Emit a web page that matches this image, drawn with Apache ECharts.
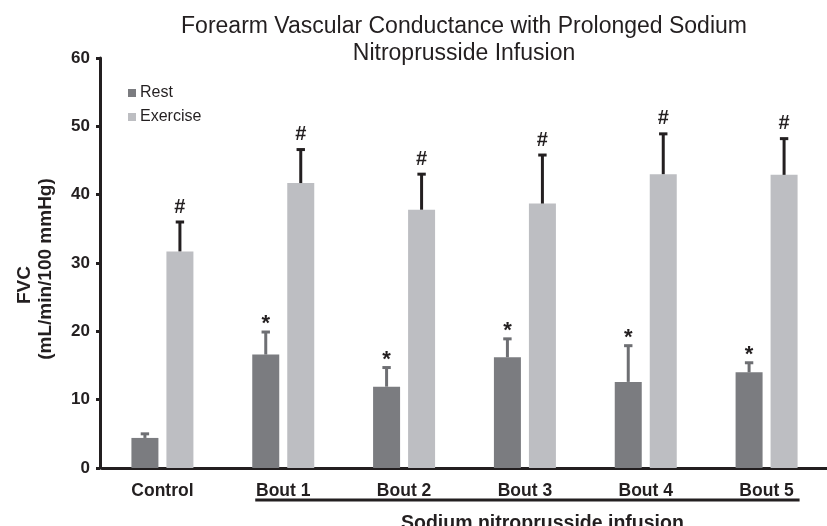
<!DOCTYPE html>
<html>
<head>
<meta charset="utf-8">
<script src="https://cdn.jsdelivr.net/npm/echarts@6/dist/echarts.min.js"></script>
<style>
html,body{margin:0;padding:0;background:#fff;}
#chart{width:827px;height:526px;}
</style>
</head>
<body>
<div id="chart"></div>
<script>
var categories = ['Control', 'Bout 1', 'Bout 2', 'Bout 3', 'Bout 4', 'Bout 5'];
var restMean = [4.4, 16.6, 11.9, 16.2, 12.6, 14.0];
var restSem = [0.6, 3.3, 2.8, 2.7, 5.3, 1.4];
var exerciseMean = [31.7, 41.7, 37.8, 38.7, 43.0, 42.9];
var exerciseSem = [4.3, 4.9, 5.2, 7.1, 5.9, 5.3];
var restMarks = ['', '*', '*', '*', '*', '*'];
var exerciseMarks = ['#', '#', '#', '#', '#', '#'];
var groupLabel = 'Sodium nitroprusside infusion';
var titleText = 'Forearm Vascular Conductance with Prolonged Sodium\nNitroprusside Infusion';

var FONT = '"Liberation Sans", Arial, Helvetica, sans-serif';
var INK = '#231f20';
var REST_COLOR = '#7b7c80';
var REST_ERR = '#6e6f73';
var EX_COLOR = '#bdbec2';
var BAR_W = 27;
var BAR_GAP = 8;
var OFF = (BAR_W + BAR_GAP) / 2;

function errSeries(name, means, sems, marks, dx, color, markFont, markGap) {
  var data = means.map(function (m, i) { return [i, m, sems[i]]; });
  return {
    type: 'custom',
    name: name + ' err',
    silent: true,
    z: 5,
    data: data,
    renderItem: function (params, api) {
      var i = api.value(0), m = api.value(1), e = api.value(2);
      var mark = marks[i];
      var base = api.coord([i, m]);
      var top = api.coord([i, m + e]);
      var x = base[0] + dx;
      var children = [
        { type: 'line', shape: { x1: x, y1: base[1], x2: x, y2: top[1] }, style: { stroke: color, lineWidth: 3 } },
        { type: 'line', shape: { x1: x - 4.2, y1: top[1], x2: x + 4.2, y2: top[1] }, style: { stroke: color, lineWidth: 3 } }
      ];
      if (mark) {
        children.push({ type: 'text', style: { text: mark, x: x, y: top[1] - markGap, align: 'center', verticalAlign: 'bottom', fill: INK, font: markFont } });
      }
      return { type: 'group', children: children };
    }
  };
}

var chart = echarts.init(document.getElementById('chart'), null, { renderer: 'canvas' });
chart.setOption({
  animation: false,
  backgroundColor: '#fff',
  textStyle: { fontFamily: FONT },
  title: {
    text: titleText,
    left: 464, top: 13, padding: 0,
    textAlign: 'center',
    textStyle: { fontFamily: FONT, fontSize: 23, fontWeight: 'normal', color: INK, lineHeight: 27 }
  },
  legend: {
    data: ['Rest', 'Exercise'],
    orient: 'vertical',
    left: 128, top: 85, padding: 0,
    icon: 'rect', itemWidth: 8, itemHeight: 8, itemGap: 8,
    textStyle: { fontFamily: FONT, fontSize: 16, color: INK, padding: [0, 0, 0, -1] }
  },
  grid: { left: 102, right: -9, top: 58, bottom: 58, containLabel: false },
  xAxis: {
    type: 'category',
    data: categories,
    axisLine: { lineStyle: { color: INK, width: 3 } },
    axisTick: { show: false },
    axisLabel: { color: INK, fontFamily: FONT, fontWeight: 'bold', fontSize: 17.5, margin: 14 },
    splitLine: { show: false }
  },
  yAxis: {
    type: 'value', min: 0, max: 60, interval: 10,
    offset: 2,
    name: '{a|FVC}\n{b|(mL/min/100 mmHg)}',
    nameLocation: 'middle', nameGap: 44,
    nameTextStyle: {
      color: INK, fontFamily: FONT, fontWeight: 'bold', fontSize: 19, lineHeight: 21,
      rich: {
        a: { color: INK, fontFamily: FONT, fontWeight: 'bold', fontSize: 19, lineHeight: 21, padding: [0, 44, 0, 0] },
        b: { color: INK, fontFamily: FONT, fontWeight: 'bold', fontSize: 19, lineHeight: 21, padding: [0, 12, 0, 0] }
      }
    },
    axisLine: { show: true, lineStyle: { color: INK, width: 3 } },
    axisTick: { show: true, length: 4, lineStyle: { color: INK, width: 3 } },
    axisLabel: { color: INK, fontFamily: FONT, fontWeight: 'bold', fontSize: 17, margin: 10 },
    splitLine: { show: false }
  },
  series: [
    { type: 'bar', name: 'Rest', data: restMean, barWidth: BAR_W, barGap: (BAR_GAP / BAR_W * 100) + '%', itemStyle: { color: REST_COLOR }, z: 2 },
    { type: 'bar', name: 'Exercise', data: exerciseMean, barWidth: BAR_W, itemStyle: { color: EX_COLOR }, z: 2 },
    errSeries('Rest', restMean, restSem, restMarks, -OFF, REST_ERR, 'bold 22px ' + FONT, -3),
    errSeries('Exercise', exerciseMean, exerciseSem, exerciseMarks, OFF, INK, 'bold 20px ' + FONT, 5)
  ]
});

var c1 = chart.convertToPixel({ xAxisIndex: 0 }, 1);
var c5 = chart.convertToPixel({ xAxisIndex: 0 }, 5);
var lineY = chart.convertToPixel({ yAxisIndex: 0 }, 0) + 32;
var x1 = c1 - 28, x2 = c5 + 33;
chart.setOption({
  graphic: [
    { type: 'line', shape: { x1: x1, y1: lineY, x2: x2, y2: lineY }, style: { stroke: INK, lineWidth: 3 } },
    { type: 'text', style: { text: groupLabel, x: (x1 + x2) / 2 + 15, y: lineY + 24, align: 'center', verticalAlign: 'middle', fill: INK, font: 'bold 19.5px ' + FONT } }
  ]
});
</script>
</body>
</html>
